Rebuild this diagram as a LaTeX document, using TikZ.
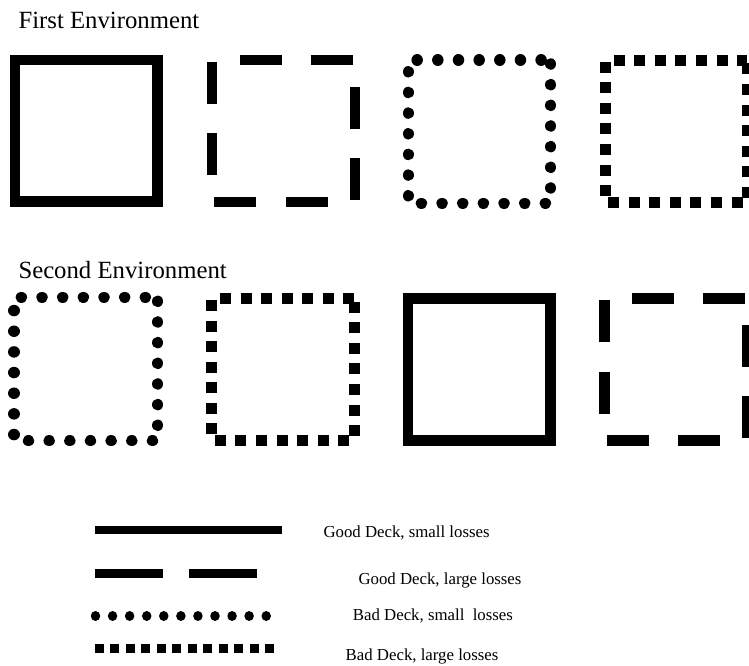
\documentclass[tikz,border=0pt]{standalone}
\usepackage{fontspec}
\setmainfont{Liberation Serif}
\begin{document}
\begin{tikzpicture}[x=1pt,y=-1pt,
  solidbox/.style={line width=10.5pt},
  dashbox/.style={line width=10.5pt, dash pattern=on 42pt off 29.25pt, dash phase=44.25pt},
  dotbox/.style={line width=11.5pt, line cap=round, dash pattern=on 0.01pt off 20.65pt, dash phase=16.65pt},
  sqbox/.style={line width=11pt, dash pattern=on 11pt off 9.57pt, dash phase=17.57pt},
  heading/.style={anchor=base west, inner sep=0pt, font=\fontsize{24.75}{30}\selectfont},
  legtext/.style={anchor=base west, inner sep=0pt, font=\fontsize{16.8}{20}\selectfont},
  legsolid/.style={line width=8.3pt},
  legdash/.style={line width=8.3pt, dash pattern=on 68.3pt off 25.7pt},
  legdot/.style={line width=9.5pt, line cap=round, dash pattern=on 0.01pt off 17.06pt},
  legsq/.style={line width=9pt, dash pattern=on 9pt off 6.45pt}]
\clip (0,0) rectangle (749,666);
\fill[white] (0,0) rectangle (749,666);

% headings
\node[heading] (h1) at (18.3,28.3) {First Environment};
\node[heading] (h2) at (18.3,278.3) {Second Environment};

% first environment
\draw[solidbox] (15,60) rectangle (157.7,201.7);
\draw[dashbox] (212,202) -- (212,60) -- (355,60) -- (355,202) -- cycle;
\draw[dotbox] (550.7,60) -- (550.7,203.3) -- (408.3,203.3) -- (408.3,60) -- cycle;
\draw[sqbox] (747.3,60.5) -- (747.3,202.8) -- (605.3,202.8) -- (605.3,60.5) -- cycle;

% second environment
\draw[dotbox] (157.7,297.3) -- (157.7,440.7) -- (14,440.7) -- (14,297.3) -- cycle;
\draw[sqbox] (354.2,298.7) -- (354.2,440.8) -- (211.7,440.8) -- (211.7,298.7) -- cycle;
\draw[solidbox] (408,298.3) rectangle (550.7,440.3);
\draw[dashbox] (604.5,440.5) -- (604.5,298.3) -- (747.5,298.3) -- (747.5,440.5) -- cycle;

% legend
\coordinate (s1) at (95,530);   \coordinate (e1) at (281.7,530);
\coordinate (s2) at (95,573.5); \coordinate (e2) at (257.7,573.5);
\coordinate (s3) at (95.5,616); \coordinate (e3) at (267,616);
\coordinate (s4) at (95,648.8); \coordinate (e4) at (274.3,648.8);
\draw[legsolid] (s1) -- (e1);
\draw[legdash] (s2) -- (e2);
\draw[legdot] (s3) -- (e3);
\draw[legsq] (s4) -- (e4);

\node[legtext] (l1) at (323.3,537.5) {Good Deck, small losses};
\node[legtext] (l2) at (358.3,584.5) {Good Deck, large losses};
\node[legtext] (l3) at (352.7,620.5) {Bad Deck, small\ \ losses};
\node[legtext] (l4) at (345.5,660.5) {Bad Deck, large losses};
\end{tikzpicture}
\end{document}
